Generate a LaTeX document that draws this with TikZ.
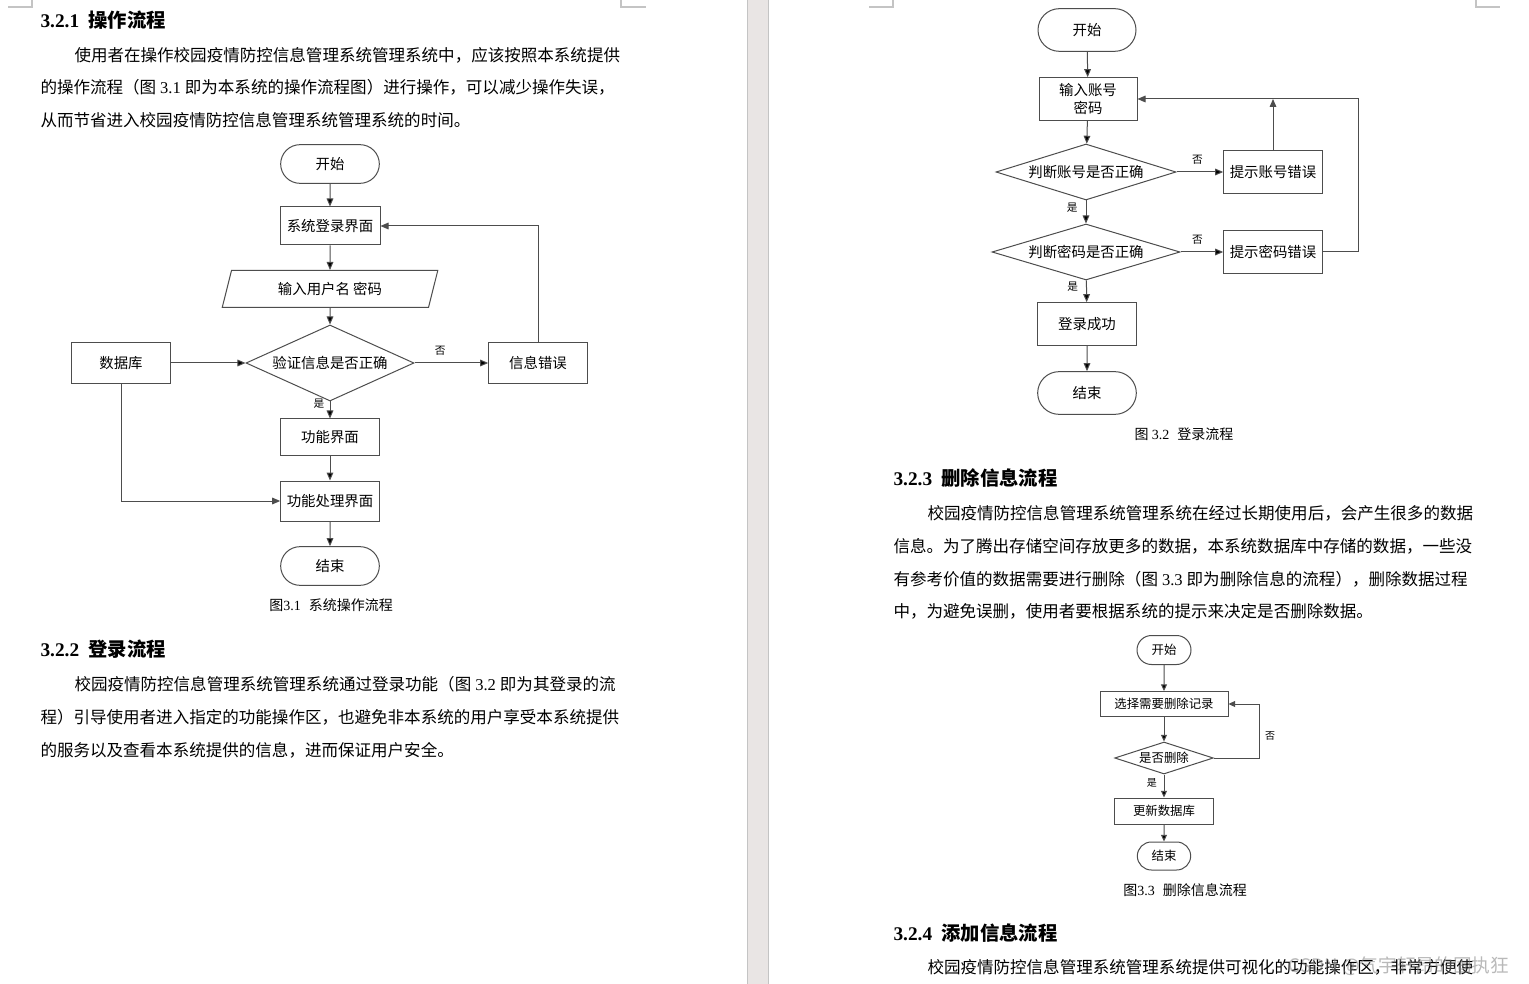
\documentclass[tikz,border=0pt]{standalone}
\usepackage{fontspec}
\setmainfont{Noto Sans CJK SC}
\newfontfamily\tnr{Liberation Serif}
\usetikzlibrary{shapes.geometric,shapes.misc,arrows.meta}

\definecolor{flowgray}{HTML}{4D4D4D}
\definecolor{gapgray}{HTML}{E9E5E4}
\definecolor{edgegray}{HTML}{C4C4C4}
\newcommand{\numsp}[1]{\hspace{3pt}{\tnr #1}\hspace{3pt}}

\begin{document}
\begin{tikzpicture}[x=0.75pt,y=-0.75pt,
					>={Triangle[length=6pt,width=5pt]},
					line width=0.75pt,
					every node/.style={inner sep=0pt},
					term node/.style={rounded rectangle,draw=flowgray,minimum width=74pt,minimum height=29pt},
					box node/.style={rectangle,draw=flowgray,minimum width=74pt,minimum height=31pt},
					io node/.style={trapezium,trapezium left angle=70,trapezium right angle=110,
						trapezium stretches=true,draw=flowgray,minimum width=162pt,minimum height=27.75pt},
					dec node/.style={diamond,draw=flowgray},
					big/.style={font=\fontsize{10.8}{13}\selectfont},
					small/.style={font=\fontsize{9.3}{11}\selectfont},
					lbl/.style={font=\fontsize{8}{9}\selectfont},
					body/.style={anchor=west,font=\fontsize{12.4}{14}\selectfont},
					head/.style={anchor=west,font=\fontsize{14.5}{16}\selectfont\bfseries},
					caption/.style={font=\fontsize{10.5}{12}\selectfont}]

  \useasboundingbox (0,0) rectangle (1529,984);
  \fill[white] (0,0) rectangle (1529,984);
  % gap between the two pages
  \fill[gapgray] (747,0) rectangle (768,984);
  \draw[edgegray] (747,0) -- (747,984) (768,0) -- (768,984);
  % page corner marks
  \draw[edgegray,line width=1pt] (8,7) -- (32,7) -- (32,0)
    (621,0) -- (621,7) -- (646,7)
    (869,7) -- (893,7) -- (893,0)
    (1476,0) -- (1476,7) -- (1500,7);

  % left page text
  \node[head] (h321) at (40,20) {{\tnr 3.2.1}\hspace{7pt}操作流程};
  \node[body] (p1a) at (74,55) {使用者在操作校园疫情防控信息管理系统管理系统中，应该按照本系统提供};
  \node[body] (p1b) at (40,87) {的操作流程（图\numsp{3.1}即为本系统的操作流程图）进行操作，可以减少操作失误，};
  \node[body] (p1c) at (40,120) {从而节省进入校园疫情防控信息管理系统管理系统的时间。};

  % figure 3.1
  \node[term node,big] (start1) at (330,164) {开始};
  \node[box node,big,minimum width=75pt,minimum height=28.5pt] (login) at (330,226) {系统登录界面};
  \node[io node,big] (input) at (330,289) {输入用户名 密码};
  \node[dec node,big,minimum width=126pt,minimum height=57pt,aspect=2.2] (verify) at (330,363) {验证信息是否正确};
  \node[box node,big] (db) at (121,363) {数据库};
  \node[box node,big] (err) at (538,363) {信息错误};
  \node[box node,big,minimum height=27pt] (func) at (330,437) {功能界面};
  \node[box node,big,minimum height=30pt] (proc) at (330,501) {功能处理界面};
  \node[term node,big] (end1) at (330,566) {结束};
  \node[caption] (cap1) at (331,605) {图{\tnr 3.1}\hspace{6pt}系统操作流程};

  \path[->,draw=flowgray]
    (start1) edge (login)
    (login) edge (input)
    (input) edge (verify)
    (db) edge (verify)
    (verify) edge node[lbl,above=5pt,pos=0.35] {否} (err)
             edge node[lbl,left=4pt,pos=0.1] {是} (func)
    (func) edge (proc)
    (proc) edge (end1);
  \draw[->,flowgray] (err.north) |- (login.east);
  \draw[->,flowgray] (db.south) |- (proc.west);

  % left page, second section
  \node[head] (h322) at (40,649) {{\tnr 3.2.2}\hspace{7pt}登录流程};
  \node[body] (p2a) at (74,684) {校园疫情防控信息管理系统管理系统通过登录功能（图\numsp{3.2}即为其登录的流};
  \node[body] (p2b) at (40,717) {程）引导使用者进入指定的功能操作区，也避免非本系统的用户享受本系统提供};
  \node[body] (p2c) at (40,750) {的服务以及查看本系统提供的信息，进而保证用户安全。};

  % figure 3.2
  \node[term node,big,minimum width=73.5pt,minimum height=32pt] (start2) at (1087,30) {开始};
  \node[box node,big,minimum width=73.5pt,minimum height=32pt,align=center] (input2) at (1088,99) {输入账号\\[1pt]密码};
  \node[dec node,big,minimum width=135pt,minimum height=42pt,aspect=3.2] (chkacc) at (1086,172) {判断账号是否正确};
  \node[box node,big,minimum height=32pt] (accerr) at (1273,172) {提示账号错误};
  \node[dec node,big,minimum width=141pt,minimum height=42pt,aspect=3.3] (chkpwd) at (1086,252) {判断密码是否正确};
  \node[box node,big,minimum height=32pt] (pwderr) at (1273,252) {提示密码错误};
  \node[box node,big,minimum height=32pt] (ok) at (1087,324) {登录成功};
  \node[term node,big,minimum height=32pt] (end2) at (1087,393) {结束};
  \node[caption] (cap2) at (1184,434) {图 {\tnr 3.2}\hspace{6pt}登录流程};
  \coordinate (ret) at (1358,99);

  \path[->,draw=flowgray]
    (start2) edge (input2)
    (input2) edge (chkacc)
    (chkacc) edge node[lbl,above=5pt,pos=0.45] {否} (accerr)
             edge node[lbl,left=6pt,pos=0.3] {是} (chkpwd)
    (chkpwd) edge node[lbl,above=5pt,pos=0.4] {否} (pwderr)
             edge node[lbl,left=6pt,pos=0.3] {是} (ok)
    (ok) edge (end2);
  \draw[->,flowgray] (accerr.north) -- (accerr.north |- ret);
  \draw[->,flowgray] (pwderr.east) -| (ret) -- (input2.east);

  % right page text
  \node[head] (h323) at (893,478) {{\tnr 3.2.3}\hspace{7pt}删除信息流程};
  \node[body] (p3a) at (927,513) {校园疫情防控信息管理系统管理系统在经过长期使用后，会产生很多的数据};
  \node[body] (p3b) at (893,546) {信息。为了腾出存储空间存放更多的数据，本系统数据库中存储的数据，一些没};
  \node[body] (p3c) at (893,579) {有参考价值的数据需要进行删除（图\numsp{3.3}即为删除信息的流程），删除数据过程};
  \node[body] (p3d) at (893,611) {中，为避免误删，使用者要根据系统的提示来决定是否删除数据。};

  % figure 3.3
  \node[term node,small,minimum width=40.5pt,minimum height=21.75pt] (start3) at (1164,650) {开始};
  \node[box node,small,minimum width=96pt,minimum height=18.75pt] (sel) at (1164,704) {选择需要删除记录};
  \node[dec node,small,minimum width=74pt,minimum height=24pt,aspect=3] (del) at (1164,758) {是否删除};
  \node[box node,small,minimum height=19.5pt] (upd) at (1164,811) {更新数据库};
  \node[term node,small,minimum width=40pt,minimum height=21pt] (end3) at (1164,856) {结束};
  \node[caption] (cap3) at (1185,890) {图{\tnr 3.3}\hspace{6pt}删除信息流程};
  \coordinate (back) at (1259,758);
  \node[lbl,font=\fontsize{7.5}{9}\selectfont] (no3) at (1270,736) {否};

  \path[->,draw=flowgray,>={Triangle[length=5pt,width=4.5pt]}]
    (start3) edge (sel)
    (sel) edge (del)
    (del) edge node[lbl,font=\fontsize{7.5}{9}\selectfont,left=5pt,pos=0.35] {是} (upd)
    (upd) edge (end3);
  \draw[->,flowgray,>={Triangle[length=5pt,width=4.5pt]}] (del.east) -- (back) |- (sel.east);

  \node[head] (h324) at (893,933) {{\tnr 3.2.4}\hspace{7pt}添加信息流程};
  \node[body] (p4a) at (927,967) {校园疫情防控信息管理系统管理系统提供可视化的功能操作区，非常方便使};

  % watermark
  \node[text=gray,opacity=0.55,font=\fontsize{14}{16}\selectfont] (wm) at (1399,966) {CSDN @气宇轩昂的固执狂};
\end{tikzpicture}
\end{document}
